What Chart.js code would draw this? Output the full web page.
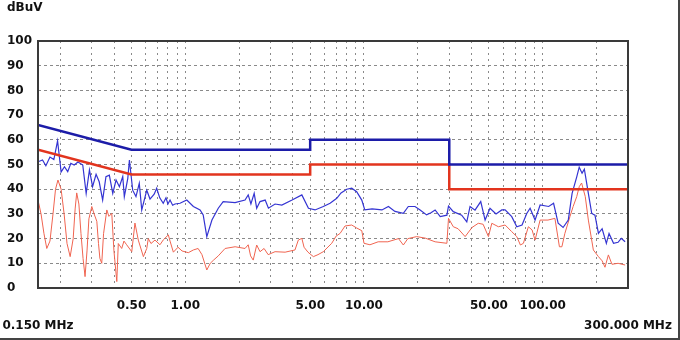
<!DOCTYPE html>
<html>
<head>
<meta charset="utf-8">
<script src="https://cdn.jsdelivr.net/npm/chart.js@4.4.1/dist/chart.umd.min.js"></script>
<style>
  html, body { margin: 0; padding: 0; background: #fff; }
  #wrap { width: 680px; height: 340px; }
</style>
</head>
<body>
<div id="wrap"><canvas id="emiChart" width="680" height="340"></canvas></div>
<script>
/* ---------------------------------------------------
   scan data (MHz / dBuV)
----------------------------------------------------- */
var peakFreq = [0.150, 0.159, 0.166, 0.175, 0.184, 0.193, 0.202, 0.211, 0.220, 0.229, 0.239, 0.251, 0.267, 0.279, 0.291, 0.303, 0.317, 0.330, 0.345, 0.360, 0.376, 0.393, 0.410, 0.428, 0.447, 0.456, 0.477, 0.487, 0.508, 0.530, 0.553, 0.571, 0.609, 0.635, 0.670, 0.692, 0.720, 0.753, 0.780, 0.800, 0.822, 0.850, 0.876, 0.935, 1.02, 1.11, 1.21, 1.26, 1.32, 1.41, 1.53, 1.63, 1.90, 2.16, 2.25, 2.33, 2.43, 2.51, 2.62, 2.80, 2.92, 3.18, 3.47, 3.96, 4.49, 4.89, 5.32, 5.92, 6.46, 7.04, 7.44, 8.01, 8.54, 9.10, 9.72, 10.1, 11.1, 12.6, 13.7, 14.9, 16.6, 17.7, 19.3, 20.6, 22.4, 23.7, 25.0, 26.7, 29.1, 29.7, 31.6, 35.2, 37.6, 39.2, 41.8, 45.0, 47.6, 50.7, 54.8, 59.0, 61.6, 67.1, 71.6, 76.6, 81.4, 85.0, 90.6, 96.7, 108, 115, 122, 130, 139, 146, 155, 160, 166, 171, 180, 188, 196, 205, 215, 227, 235, 249, 264, 275, 289];
var peakLevel = [51.1, 51.8, 49.5, 53, 52, 59.6, 47, 49.1, 47.1, 50.5, 49.8, 51, 49.8, 38.3, 47.8, 41, 46, 43, 35.6, 45.1, 45.7, 38.3, 43.7, 41, 45.1, 37, 44.4, 51.8, 39.6, 37, 42.4, 31.6, 39.6, 36, 38, 40.4, 36.5, 34.3, 36.5, 34, 35.6, 33.5, 34, 34.3, 35.6, 33, 31.6, 29.6, 20.8, 27.5, 32.3, 35, 34.6, 35.6, 37.7, 34, 38.3, 32.3, 35, 35.6, 32.3, 34, 33.6, 35.6, 37.7, 32.3, 31.6, 33, 34.3, 36.3, 38.5, 40, 40.4, 39, 35.6, 31.6, 32, 31.6, 33, 31, 30.2, 33, 33, 31.6, 29.6, 30.5, 31.6, 28.9, 29.5, 33.2, 30.9, 29.5, 26.8, 33, 31.5, 35, 27.5, 32.3, 30, 31.6, 31.6, 28.9, 24.8, 25.5, 30.2, 32.3, 27.5, 33.6, 33, 34.3, 26.2, 24.5, 27.5, 38.3, 45, 48.9, 46.5, 48.1, 38.3, 30.2, 29.5, 22.1, 24, 18.1, 22.1, 18.1, 18.5, 20.1, 18.7];

var avgFreq = [0.150, 0.156, 0.162, 0.168, 0.175, 0.182, 0.188, 0.194, 0.202, 0.210, 0.218, 0.227, 0.236, 0.242, 0.247, 0.254, 0.261, 0.268, 0.275, 0.282, 0.289, 0.300, 0.309, 0.320, 0.327, 0.333, 0.341, 0.349, 0.364, 0.374, 0.388, 0.399, 0.414, 0.422, 0.441, 0.454, 0.470, 0.502, 0.523, 0.546, 0.583, 0.609, 0.621, 0.643, 0.677, 0.722, 0.754, 0.804, 0.822, 0.858, 0.911, 0.959, 1.04, 1.11, 1.18, 1.24, 1.32, 1.38, 1.44, 1.53, 1.67, 1.90, 2.16, 2.25, 2.32, 2.40, 2.51, 2.62, 2.76, 2.91, 3.18, 3.62, 4.11, 4.29, 4.49, 4.62, 4.86, 5.21, 5.53, 5.92, 6.60, 6.98, 7.35, 7.83, 8.54, 9.10, 9.72, 10.0, 10.8, 12.0, 13.6, 15.6, 16.6, 17.6, 19.7, 22.0, 25.0, 29.1, 29.7, 31.6, 33.6, 36.8, 40.2, 43.6, 46.4, 49.7, 51.9, 56.5, 61.6, 67.1, 71.6, 75.0, 78.0, 83.1, 87.2, 90.6, 96.7, 107, 117, 124, 128, 133, 142, 148, 155, 160, 165, 173, 180, 192, 205, 215, 223, 233, 244, 264, 289];
var avgLevel = [35.6, 30, 22, 16, 19, 30, 40, 43.7, 40, 30, 18, 12.7, 20, 32, 38.5, 34, 22, 12, 4.6, 15, 28, 33, 30, 27, 18, 12, 10, 22, 31.6, 29, 30.2, 15, 2.6, 18, 16, 19, 17.5, 14.7, 26.3, 19.4, 12.7, 16, 20, 18, 19.4, 17.5, 19.5, 21.5, 19, 14.5, 16.5, 15, 14.3, 15.4, 16, 13.5, 7.3, 10, 11.3, 13, 16, 16.7, 16, 17.5, 13, 11.3, 17.4, 14.7, 16, 13.5, 14.7, 14.5, 15.4, 19.4, 20.1, 16.5, 14.5, 12.7, 13.5, 14.7, 18.1, 21, 22.1, 25.1, 25.5, 24.3, 23.2, 18.1, 17.5, 18.7, 18.7, 20, 17.4, 20, 20.8, 20.2, 18.7, 18.1, 28.2, 24.8, 24, 20.8, 24.5, 26.2, 25.8, 20.8, 26.2, 24.8, 25.5, 22.8, 20.8, 17.4, 18.1, 24.8, 23.5, 19.4, 27.5, 27.5, 28.2, 16.7, 16.7, 22.1, 28.9, 33, 37, 41, 42.5, 37, 27.5, 15.4, 12.7, 11, 8.4, 13.4, 9.6, 10, 9.3];

// limit lines (quasi-peak and average)
var qpLimitFreq = [0.15, 0.5, 5, 5, 30, 30, 300];
var qpLimitLevel = [66, 56, 56, 60, 60, 50, 50];
var avLimitFreq = [0.15, 0.5, 5, 5, 30, 30, 300];
var avLimitLevel = [56, 46, 46, 50, 50, 40, 40];

// axis
var gridFreqs = [0.15, 0.2, 0.3, 0.4, 0.5, 0.6, 0.7, 0.8, 0.9, 1, 2, 3, 4, 5, 6, 7, 8, 9, 10,
                 20, 30, 40, 50, 60, 70, 80, 90, 100, 200, 300];
var labelFreqs = [0.5, 1, 5, 10, 50, 100];
var labelText = ['0.50', '1.00', '5.00', '10.00', '50.00', '100.00'];
var startLabel = '0.150 MHz';
var stopLabel = '300.000 MHz';
var unitLabel = 'dBuV';

/* ---------------------------------------------------
   helpers
----------------------------------------------------- */
function toPoints(fs, vs)
{
	var pts = [];
	for (var i = 0; i < fs.length; i++) {
		pts.push({x: fs[i], y: vs[i]});
	}
	return pts;
}

function xTickLabel(value)
{
	if (Math.abs(value - 0.15) < 1e-9) return ['', startLabel];
	if (Math.abs(value - 300) < 1e-9) return ['', stopLabel];
	for (var i = 0; i < labelFreqs.length; i++) {
		if (Math.abs(value - labelFreqs[i]) < 1e-9) return labelText[i];
	}
	return '';
}

// frame round the plot and the picture edge
var framePlugin = {
	id: 'frame',
	afterDraw: function (chart) {
		var ctx = chart.ctx;
		var a = chart.chartArea;
		ctx.save();
		ctx.strokeStyle = '#3a3a3a';
		ctx.lineWidth = 2;
		ctx.strokeRect(a.left, a.top, a.right - a.left, a.bottom - a.top);
		ctx.fillStyle = '#444';
		ctx.fillRect(678, 0, 2, 340);
		ctx.fillRect(0, 338, 680, 2);
		ctx.restore();
	}
};

/* ---------------------------------------------------
   chart
----------------------------------------------------- */
var labelFont = {family: 'DejaVu Sans', size: 12, weight: 'bold', lineHeight: 1.67};

var ctxE = document.getElementById('emiChart').getContext('2d');
var emiChart = new Chart(ctxE, {
	type: 'scatter',
	data: {
		datasets: [{
			data: toPoints(qpLimitFreq, qpLimitLevel),
			borderColor: '#1c1ca8',
			borderWidth: 2.5,
			order: 0
		}, {
			data: toPoints(avLimitFreq, avLimitLevel),
			borderColor: '#e2341e',
			borderWidth: 2.5,
			order: 1
		}, {
			data: toPoints(peakFreq, peakLevel),
			borderColor: '#3434d2',
			borderWidth: 1.2,
			order: 2
		}, {
			data: toPoints(avgFreq, avgLevel),
			borderColor: '#f06450',
			borderWidth: 1,
			order: 3
		}]
	},
	options: {
		responsive: false,
		animation: false,
		devicePixelRatio: 1,
		showLine: true,
		elements: {
			point: { radius: 0, hoverRadius: 0 },
			line: { tension: 0, fill: false }
		},
		layout: { padding: { left: 7, right: 52, top: 0, bottom: 0 } },
		plugins: {
			legend: { display: false },
			tooltip: { enabled: false },
			title: {
				display: true,
				text: unitLabel,
				align: 'start',
				color: '#111',
				font: {family: 'DejaVu Sans', size: 12, weight: 'bold', lineHeight: 1.2},
				padding: { top: 1, bottom: 25.6 }
			}
		},
		scales: {
			x: {
				type: 'logarithmic',
				min: 0.15,
				max: 300,
				afterBuildTicks: function (axis) {
					axis.ticks = gridFreqs.map(function (v) { return {value: v}; });
				},
				afterFit: function (axis) {
					axis.height = 52;
					axis.paddingLeft = 0;
					axis.paddingRight = 0;
				},
				ticks: {
					autoSkip: false,
					maxRotation: 0,
					minRotation: 0,
					padding: 8,
					color: '#111',
					font: labelFont,
					callback: function (value) { return xTickLabel(value); }
				},
				grid: { color: '#8a8a8a', lineWidth: 1, drawTicks: false, borderDash: [2, 4] },
				border: { display: false, dash: [2, 4] }
			},
			y: {
				min: 0,
				max: 100,
				afterFit: function (axis) {
					axis.width = 31;
				},
				ticks: {
					stepSize: 10,
					crossAlign: 'far',
					padding: 0,
					color: '#111',
					font: {family: 'DejaVu Sans', size: 12, weight: 'bold'}
				},
				grid: { color: '#8a8a8a', lineWidth: 1, drawTicks: false, borderDash: [3, 3] },
				border: { display: false, dash: [3, 3] }
			}
		}
	},
	plugins: [framePlugin]
});
</script>
</body>
</html>
